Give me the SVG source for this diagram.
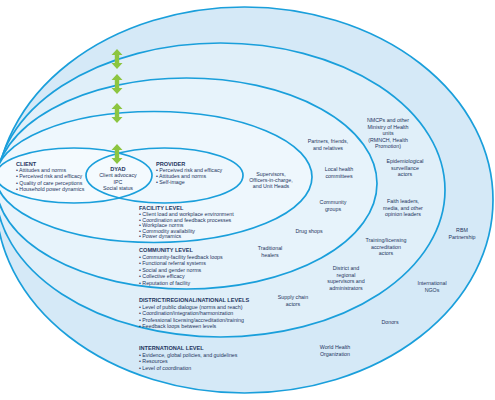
<svg xmlns="http://www.w3.org/2000/svg" width="495" height="400" viewBox="0 0 495 400">
<style>
.ring{stroke:#1a9fdb;stroke-width:1.7}
.t{font-family:"Liberation Sans",Arial,sans-serif;font-size:5.3px;fill:#1f3560}
.h{font-family:"Liberation Sans",Arial,sans-serif;font-size:5.6px;font-weight:bold;fill:#1f3560}
.c{text-anchor:middle}
.arw{fill:#8cc540}
</style>
<rect width="495" height="400" fill="#ffffff"/>
<g id="international">
<ellipse class="ring" cx="244.5" cy="200" rx="248.5" ry="193" fill="#d5e9f7" stroke-width="2.1"/>
<text class="h" x="139" y="350">INTERNATIONAL LEVEL</text>
<text class="t" x="139" y="356.5">• Evidence, global policies, and guidelines</text>
<text class="t" x="139" y="363">• Resources</text>
<text class="t" x="139" y="369.5">• Level of coordination</text>
<text class="t c" x="462" y="232">RBM</text>
<text class="t c" x="462" y="238.5">Partnership</text>
<text class="t c" x="432" y="285">International</text>
<text class="t c" x="432" y="291.5">NGOs</text>
<text class="t c" x="390" y="324">Donors</text>
<text class="t c" x="335" y="349">World Health</text>
<text class="t c" x="335" y="355.5">Organization</text>
</g>
<g id="district">
<ellipse class="ring" cx="220.5" cy="190" rx="224.5" ry="147" fill="#e0eff9"/>
<text class="h" x="139" y="302">DISTRICT/REGIONAL/NATIONAL LEVELS</text>
<text class="t" x="139" y="308.5">• Level of public dialogue (norms and reach)</text>
<text class="t" x="139" y="315">• Coordination/integration/harmonization</text>
<text class="t" x="139" y="321.5">• Professional licensing/accreditation/training</text>
<text class="t" x="139" y="328">• Feedback loops between levels</text>
<text class="t c" x="388" y="122">NMCPs  and other</text>
<text class="t c" x="388" y="128.5">Ministry of Health</text>
<text class="t c" x="388" y="135">units</text>
<text class="t c" x="388" y="141.5">(RMNCH, Health</text>
<text class="t c" x="388" y="148">Promotion)</text>
<text class="t c" x="405" y="163">Epidemiological</text>
<text class="t c" x="405" y="169.5">surveillance</text>
<text class="t c" x="405" y="176">actors</text>
<text class="t c" x="403" y="203">Faith leaders,</text>
<text class="t c" x="403" y="209.5">media, and other</text>
<text class="t c" x="403" y="216">opinion leaders</text>
<text class="t c" x="386" y="242">Training/licensing</text>
<text class="t c" x="386" y="248.5">accreditation</text>
<text class="t c" x="386" y="255">actors</text>
<text class="t c" x="346" y="270">District and</text>
<text class="t c" x="346" y="276.5">regional</text>
<text class="t c" x="346" y="283">supervisors and</text>
<text class="t c" x="346" y="289.5">administrators</text>
<text class="t c" x="293" y="299">Supply chain</text>
<text class="t c" x="293" y="305.5">actors</text>
</g>
<g id="community">
<ellipse class="ring" cx="186.5" cy="183.5" rx="190.5" ry="105.5" fill="#e7f3fb"/>
<text class="h" x="139" y="252">COMMUNITY LEVEL</text>
<text class="t" x="139" y="258.5">• Community-facility feedback loops</text>
<text class="t" x="139" y="265">• Functional referral systems</text>
<text class="t" x="139" y="271.5">• Social and gender norms</text>
<text class="t" x="139" y="278">• Collective efficacy</text>
<text class="t" x="139" y="284.5">• Reputation of facility</text>
<text class="t c" x="328" y="143">Partners, friends,</text>
<text class="t c" x="328" y="149.5">and relatives</text>
<text class="t c" x="339" y="171">Local health</text>
<text class="t c" x="339" y="177.5">committees</text>
<text class="t c" x="333" y="204">Community</text>
<text class="t c" x="333" y="210.5">groups</text>
<text class="t c" x="309" y="233">Drug shops</text>
<text class="t c" x="270" y="250">Traditional</text>
<text class="t c" x="270" y="256.5">healers</text>
</g>
<g id="facility">
<ellipse class="ring" cx="154" cy="177" rx="158" ry="65.5" fill="#eef7fd"/>
<text class="h" x="139" y="210">FACILITY LEVEL</text>
<text class="t" x="139" y="216">• Client load and workplace environment</text>
<text class="t" x="139" y="221.6">• Coordination and feedback processes</text>
<text class="t" x="139" y="227.2">• Workplace norms</text>
<text class="t" x="139" y="232.8">• Commodity availability</text>
<text class="t" x="139" y="238.4">• Power dynamics</text>
<text class="t c" x="271" y="176">Supervisors,</text>
<text class="t c" x="271" y="182">Officers-in-charge,</text>
<text class="t c" x="271" y="188">and Unit Heads</text>
</g>
<g id="client">
<ellipse class="ring" cx="74" cy="175.5" rx="78" ry="27.5" fill="#f4fafe"/>
</g>
<g id="provider">
<ellipse class="ring" cx="164.5" cy="175.5" rx="78.5" ry="27.5" fill="none"/>
</g>
<g id="client-text">
<text class="h" x="16" y="165.5">CLIENT</text>
<text class="t" x="16" y="172">• Attitudes and norms</text>
<text class="t" x="16" y="178.3">• Perceived risk and efficacy</text>
<text class="t" x="16" y="184.6">• Quality of care perceptions</text>
<text class="t" x="16" y="190.9">• Household power dynamics</text>
</g>
<g id="dyad">
<text class="h c" x="118" y="171">DYAD</text>
<text class="t c" x="118" y="177">Client advocacy</text>
<text class="t c" x="118" y="183.5">IPC</text>
<text class="t c" x="118" y="190">Social status</text>
</g>
<g id="provider-text">
<text class="h" x="156" y="165.5">PROVIDER</text>
<text class="t" x="156" y="172">• Perceived risk and efficacy</text>
<text class="t" x="156" y="178">• Attitudes and norms</text>
<text class="t" x="156" y="184">• Self-image</text>
</g>
<g id="connectors">
<path class="arw" d="M117,49 L122.5,55 L119.2,55 L119.2,63 L122.5,63 L117,69 L111.5,63 L114.8,63 L114.8,55 L111.5,55 Z"/>
<path class="arw" d="M117,74 L122.5,80 L119.2,80 L119.2,88 L122.5,88 L117,94 L111.5,88 L114.8,88 L114.8,80 L111.5,80 Z"/>
<path class="arw" d="M117,103 L122.5,109 L119.2,109 L119.2,117 L122.5,117 L117,123 L111.5,117 L114.8,117 L114.8,109 L111.5,109 Z"/>
<path class="arw" d="M117,144 L122.5,150 L119.2,150 L119.2,158 L122.5,158 L117,164 L111.5,158 L114.8,158 L114.8,150 L111.5,150 Z"/>
</g>
</svg>
